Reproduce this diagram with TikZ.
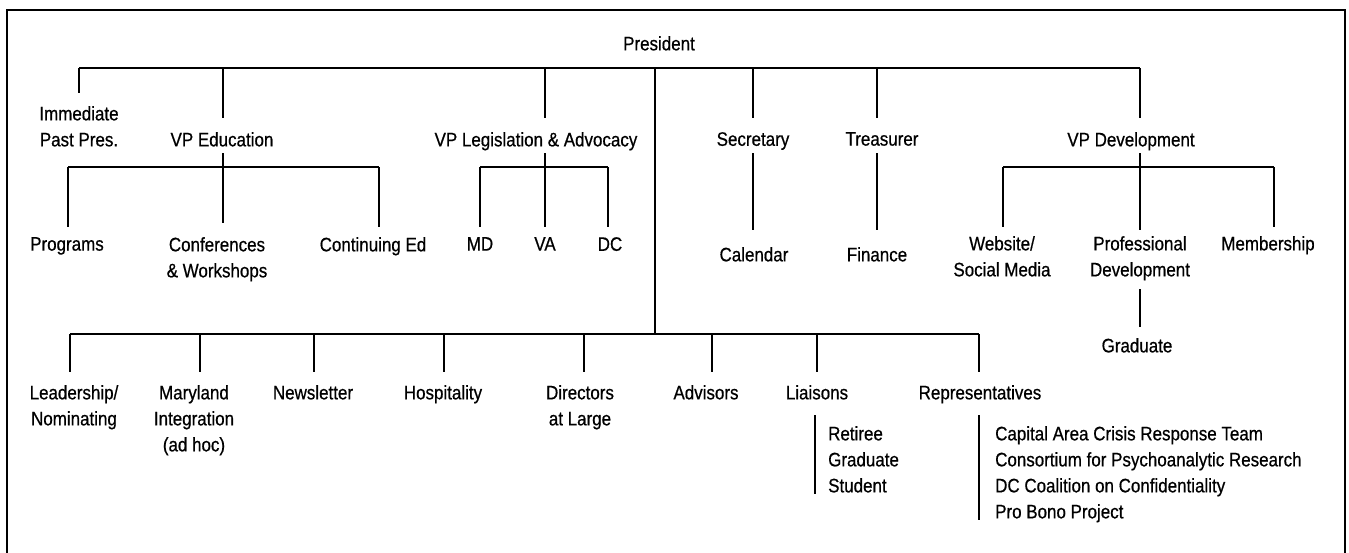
\documentclass[tikz,border=0pt]{standalone}
\usepackage{fontspec}
\setmainfont{Liberation Sans}[FakeStretch=0.87, FakeBold=0.6]
\begin{document}
\begin{tikzpicture}[x=1pt,y=-1pt,
    every node/.style={font=\fontsize{19.5}{26}\selectfont, inner sep=0pt, anchor=north, align=center},
    link/.style={line width=1.4pt},
    frame/.style={line width=2.2pt}]
    \useasboundingbox (0,0) rectangle (1349,552);
    \clip (0,0) rectangle (1349,552);
    \draw[frame] (7,580) -- (7,10) -- (1345,10) -- (1345,580);

    % officers
    \node (pres) at (659,36) {President};
    \node (imm) at (79,106) {Immediate\\Past Pres.};
    \node (edu) at (222,132) {VP Education};
    \node (leg) at (536,132) {VP Legislation \& Advocacy};
    \node (sec) at (753,132) {Secretary};
    \node (tre) at (882,132) {Treasurer};
    \node (dev) at (1131,132) {VP Development};

    \node (prog) at (67,237) {Programs};
    \node (conf) at (217,237) {Conferences\\\& Workshops};
    \node (cont) at (373,237) {Continuing Ed};
    \node (md) at (480,237) {MD};
    \node (va) at (545,237) {VA};
    \node (dc) at (610,237) {DC};
    \node (cal) at (754,247) {Calendar};
    \node (fin) at (877,247) {Finance};
    \node (web) at (1002,236) {Website/\\Social Media};
    \node (prof) at (1140,236) {Professional\\Development};
    \node (memb) at (1268,236) {Membership};
    \node (grad) at (1137,338) {Graduate};

    % committees
    \node (lead) at (74,385) {Leadership/\\Nominating};
    \node (mary) at (194,385) {Maryland\\Integration\\(ad hoc)};
    \node (news) at (313,385) {Newsletter};
    \node (hosp) at (443,385) {Hospitality};
    \node (dir) at (580,385) {Directors\\at Large};
    \node (adv) at (706,385) {Advisors};
    \node (liai) at (817,385) {Liaisons};
    \node (rep) at (980,385) {Representatives};
    \node[anchor=north west, align=left] (liailist) at (828,426) {Retiree\\Graduate\\Student};
    \node[anchor=north west, align=left] (replist) at (995,426)
        {Capital Area Crisis Response Team\\Consortium for Psychoanalytic Research\\DC Coalition on Confidentiality\\Pro Bono Project};

    % top bus
    \coordinate (tL) at (79,68);
    \coordinate (tR) at (1140,68);
    \draw[link] (tL) -- (tR);
    \draw[link, shorten >=13pt] (tL) -- (tL |- imm.north);
    \foreach \x/\n in {223/edu, 545/leg, 753/sec, 877/tre, 1140/dev}
        \draw[link, shorten >=14pt] (\x,68) -- (\x,68 |- \n.north);
    \draw[link] (655,68) coordinate (trunk) -- (655,334) coordinate (bB);

    % VP Education
    \draw[link, shorten >=14pt] (223,153) coordinate (eduS) -- (eduS |- conf.north);
    \draw[link] (68,167) coordinate (eduL) -- (379,167) coordinate (eduR);
    \draw[link, shorten >=10pt] (eduL) -- (eduL |- prog.north);
    \draw[link, shorten >=10pt] (eduR) -- (eduR |- cont.north);

    % VP Legislation
    \draw[link, shorten >=10pt] (545,153) coordinate (legS) -- (legS |- va.north);
    \draw[link] (480,167) coordinate (legL) -- (608,167) coordinate (legR);
    \draw[link, shorten >=10pt] (legL) -- (legL |- md.north);
    \draw[link, shorten >=10pt] (legR) -- (legR |- dc.north);

    % Secretary, Treasurer
    \draw[link, shorten >=17pt] (753,153) coordinate (secS) -- (secS |- cal.north);
    \draw[link, shorten >=17pt] (877,153) coordinate (treS) -- (treS |- fin.north);

    % VP Development
    \draw[link, shorten >=6pt] (1140,153) coordinate (devS) -- (devS |- prof.north);
    \draw[link] (1003,167) coordinate (devL) -- (1274,167) coordinate (devR);
    \draw[link, shorten >=9pt] (devL) -- (devL |- web.north);
    \draw[link, shorten >=9pt] (devR) -- (devR |- memb.north);
    \draw[link, shorten >=11pt] (1140,289) coordinate (profS) -- (profS |- grad.north);

    % bottom bus
    \draw[link] (70,334) coordinate (bL) -- (979,334) coordinate (bR);
    \foreach \x/\n in {70/lead, 200/mary, 314/news, 444/hosp, 584/dir, 712/adv, 817/liai, 979/rep}
        \draw[link, shorten >=13pt] (\x,334) -- (\x,334 |- \n.north);

    % lists
    \draw[link] (815,415) coordinate (liaiT) -- (815,494) coordinate (liaiB);
    \draw[link] (979,415) coordinate (repT) -- (979,520) coordinate (repB);
\end{tikzpicture}
\end{document}
